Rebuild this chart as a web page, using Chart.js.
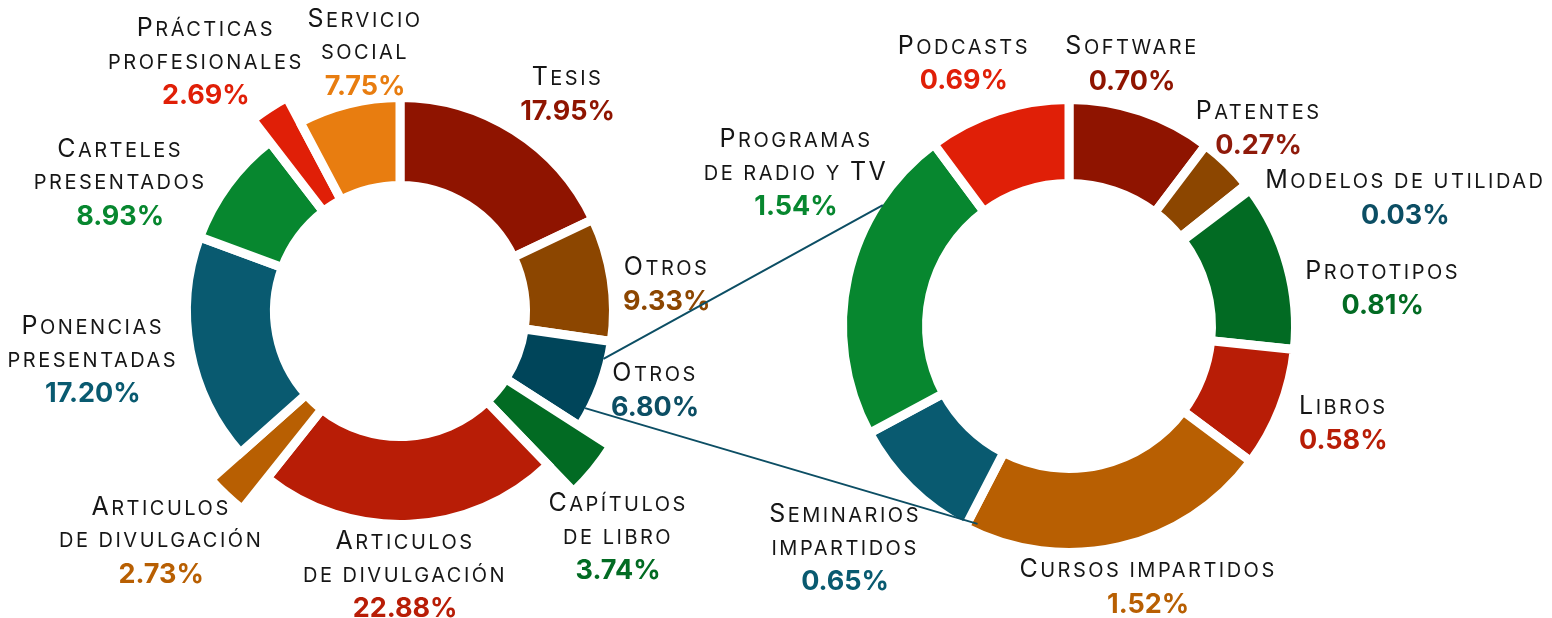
<!DOCTYPE html>
<html>
<head>
<meta charset="utf-8">
<script src="https://cdn.jsdelivr.net/npm/chart.js@4.4.1/dist/chart.umd.min.js"></script>
<style>
	html, body { margin: 0; background: #fff; }
	#wrap { position: relative; width: 1552px; height: 618px; }
	#wrap canvas { position: absolute; left: 0; top: 0; }
</style>
</head>
<body>
<div id="wrap">
	<canvas id="main-chart" width="1552" height="618"></canvas>
	<canvas id="other-chart" width="1552" height="618"></canvas>
</div>
<script>
// left doughnut: productos
const mainLabels = [
	['Tesis'], ['Otros'], ['Otros'], ['Capítulos', 'de libro'],
	['Articulos', 'de divulgación'], ['Articulos', 'de divulgación'],
	['Ponencias', 'presentadas'], ['Carteles', 'presentados'],
	['Prácticas', 'profesionales'], ['Servicio', 'social']
];
const mainValues = [17.95, 9.33, 6.80, 3.74, 22.88, 2.73, 17.20, 8.93, 2.69, 7.75];

// right doughnut: breakdown of "Otros 6.80%"
const otherLabels = [
	['Software'], ['Patentes'], ['Modelos de utilidad'], ['Prototipos'], ['Libros'],
	['Cursos impartidos'], ['Seminarios', 'impartidos'], ['Programas', 'de radio y TV'], ['Podcasts']
];
const otherValues = [0.70, 0.27, 0.03, 0.81, 0.58, 1.52, 0.65, 1.54, 0.69];

const mainColors = ['#8f1400', '#8c4600', '#00455a', '#026b23', '#b81d06', '#b85f02', '#095a70', '#07872f', '#e01f07', '#e87d10'];
const mainTextColors = ['#8f1400', '#8c4600', '#0c4e64', '#026b23', '#b81d06', '#b85f02', '#095a70', '#07872f', '#e01f07', '#e87d10'];
const otherColors = ['#8f1400', '#8c4600', '#00455a', '#026b23', '#b81d06', '#b85f02', '#095a70', '#07872f', '#e01f07'];
const otherTextColors = ['#8f1400', '#8f1a0a', '#0c4e64', '#026b23', '#b81d06', '#b85f02', '#095a70', '#07872f', '#e01f07'];

// layout / style
const BORDER = 9;
const LINE = 32.5;
const FONT = 'Inter, "Noto Sans", sans-serif';
const mainStretch = { 3: 37, 5: 40, 8: 28 };
const otherStretch = { 2: 16 };
// label block centres, [degrees clockwise from top, distance from centre]
const mainSpots = [[37.7, 274], [84.2, 268], [107.2, 267], [136, 314], [178.9, 264],
	[226.2, 331], [261, 311], [294.7, 308], [322.1, 316], [352.3, 261]];
const otherSpots = [[13.5, 270], [43.8, 274], [69.1, 360], [83.1, 316], [109.5, 291],
	[163.1, 272], [225.3, 315], [299.3, 313], [338.2, 283]];

function stretchPlugin(extra) {
	return {
		id: 'stretch',
		afterDatasetsUpdate(chart) {
			chart.getDatasetMeta(0).data.forEach((arc, i) => {
				if (extra[i]) arc.outerRadius += extra[i];
			});
		}
	};
}

function smallCaps(ctx, text, cx, cy) {
	const runs = [];
	for (const ch of text) {
		const big = ch !== ch.toLowerCase();
		const last = runs[runs.length - 1];
		if (last && last.big === big) last.t += ch.toUpperCase();
		else runs.push({ big, t: ch.toUpperCase() });
	}
	ctx.save();
	ctx.letterSpacing = '2.5px';
	ctx.textAlign = 'left';
	ctx.textBaseline = 'alphabetic';
	ctx.fillStyle = '#161616';
	let w = 0;
	runs.forEach(r => {
		ctx.font = (r.big ? '400 25px ' : '400 20px ') + FONT;
		r.w = ctx.measureText(r.t).width;
		w += r.w;
	});
	let x = cx - w / 2;
	runs.forEach(r => {
		ctx.font = (r.big ? '400 25px ' : '400 20px ') + FONT;
		ctx.fillText(r.t, x, cy + 7);
		x += r.w;
	});
	ctx.restore();
}

function labelPlugin(names, values, colors, spots) {
	return {
		id: 'sliceLabels',
		afterDatasetsDraw(chart) {
			const ctx = chart.ctx;
			const arc0 = chart.getDatasetMeta(0).data[0];
			names.forEach((lines, i) => {
				const a = spots[i][0] * Math.PI / 180, r = spots[i][1];
				const bx = arc0.x + r * Math.sin(a), by = arc0.y - r * Math.cos(a);
				const n = lines.length + 1;
				lines.forEach((t, j) => smallCaps(ctx, t, bx, by + (j - (n - 1) / 2) * LINE));
				ctx.save();
				ctx.font = '700 27px ' + FONT;
				ctx.textAlign = 'center';
				ctx.textBaseline = 'alphabetic';
				ctx.fillStyle = colors[i];
				ctx.fillText(values[i].toFixed(2) + '%', bx, by + (n - 1) / 2 * LINE + 10);
				ctx.restore();
			});
		}
	};
}

function doughnut(canvas, values, colors, radius, cutout, padding, plugins) {
	return new Chart(canvas, {
		type: 'doughnut',
		data: {
			datasets: [{
				data: values,
				backgroundColor: colors,
				borderColor: '#ffffff',
				borderWidth: BORDER,
				borderJoinStyle: 'miter'
			}]
		},
		options: {
			responsive: false,
			animation: false,
			radius: radius,
			cutout: cutout,
			layout: { padding: padding },
			plugins: { legend: { display: false }, tooltip: { enabled: false } },
			events: []
		},
		plugins: plugins
	});
}

const mainChart = doughnut(document.querySelector('#main-chart'), mainValues, mainColors,
	213.5, '58.8%', { left: 0, right: 752, top: 4, bottom: 0 },
	[stretchPlugin(mainStretch), labelPlugin(mainLabels, mainValues, mainTextColors, mainSpots)]);

// lines joining "Otros 6.80%" to the breakdown doughnut
const connector = {
	id: 'connector',
	afterDatasetsDraw(chart) {
		const ctx = chart.ctx;
		const src = mainChart.getDatasetMeta(0).data[2];
		const arcs = chart.getDatasetMeta(0).data;
		const deg = Math.PI / 180;
		const rs = src.outerRadius - BORDER / 2;
		const a0 = src.startAngle + 5 * deg, a1 = src.endAngle - 5 * deg;
		const prog = arcs[7], curs = arcs[5];
		const rr = prog.outerRadius - BORDER / 2;
		const b0 = prog.startAngle + 0.75 * (prog.endAngle - prog.startAngle);
		const b1 = curs.endAngle - 2.5 * deg;
		ctx.save();
		ctx.strokeStyle = '#0c4e64';
		ctx.lineWidth = 2;
		ctx.beginPath();
		ctx.moveTo(src.x + rs * Math.cos(a0), src.y + rs * Math.sin(a0));
		ctx.lineTo(prog.x + rr * Math.cos(b0), prog.y + rr * Math.sin(b0));
		ctx.moveTo(src.x + rs * Math.cos(a1), src.y + rs * Math.sin(a1));
		ctx.lineTo(curs.x + (rr - 4) * Math.cos(b1), curs.y + (rr - 4) * Math.sin(b1));
		ctx.stroke();
		ctx.restore();
	}
};

const otherChart = doughnut(document.querySelector('#other-chart'), otherValues, otherColors,
	226.5, '62.9%', { left: 586, right: 0, top: 34, bottom: 0 },
	[stretchPlugin(otherStretch), connector, labelPlugin(otherLabels, otherValues, otherTextColors, otherSpots)]);
</script>
</body>
</html>
